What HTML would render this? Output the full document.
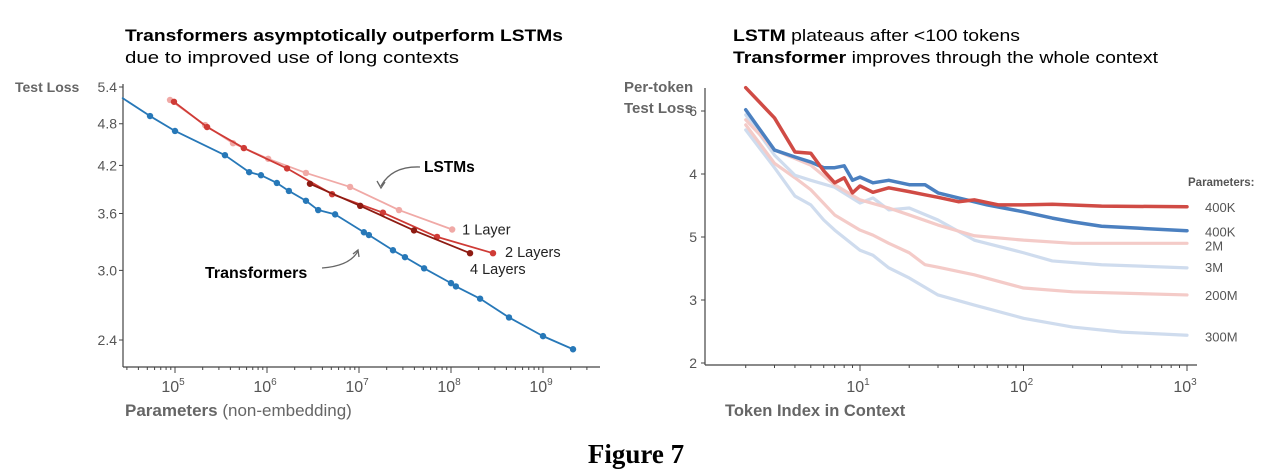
<!DOCTYPE html>
<html><head><meta charset="utf-8"><style>
body{margin:0;background:#fff;width:1280px;height:474px;overflow:hidden;font-family:"Liberation Sans",sans-serif}
svg{position:absolute;left:0;top:0}
</style></head><body>
<svg width="1280" height="474" xmlns="http://www.w3.org/2000/svg">
<g id="left"></g>
<g id="right"></g>
<text x="125" y="41" font-size="16.5" font-weight="bold" fill="#000" textLength="438" lengthAdjust="spacingAndGlyphs">Transformers asymptotically outperform LSTMs</text>
<text x="125" y="63" font-size="16.5" fill="#000" textLength="334" lengthAdjust="spacingAndGlyphs">due to improved use of long contexts</text>
<text x="733" y="41" font-size="16.5" fill="#000" textLength="287" lengthAdjust="spacingAndGlyphs"><tspan font-weight="bold">LSTM</tspan> plateaus after &lt;100 tokens</text>
<text x="733" y="63" font-size="16.5" fill="#000" textLength="425" lengthAdjust="spacingAndGlyphs"><tspan font-weight="bold">Transformer</tspan> improves through the whole context</text>
<text x="15" y="92" font-size="14" font-weight="bold" fill="#666">Test Loss</text>
<text x="125" y="416" font-size="17" fill="#666"><tspan font-weight="bold">Parameters</tspan> (non-embedding)</text>
<text x="624" y="92" font-size="15" font-weight="bold" fill="#666">Per-token</text>
<text x="624" y="113" font-size="15" font-weight="bold" fill="#666">Test Loss</text>
<text x="725" y="416" font-size="16.5" font-weight="bold" fill="#666">Token Index in Context</text>
<text x="636" y="463" font-size="27" font-weight="bold" font-family="Liberation Serif, serif" text-anchor="middle" fill="#000">Figure 7</text>
<text x="424" y="172" font-size="15.5" font-weight="bold" fill="#000">LSTMs</text>
<path d="M420,167 Q392,166 381,186" fill="none" stroke="#666" stroke-width="1.3"/>
<path d="M377,181 L381,188 L385,182" fill="none" stroke="#666" stroke-width="1.3"/>
<text x="205" y="278" font-size="16" font-weight="bold" fill="#000">Transformers</text>
<path d="M322,268 Q350,266 358,251" fill="none" stroke="#666" stroke-width="1.3"/>
<path d="M353,254 L358,250 L359,257" fill="none" stroke="#666" stroke-width="1.3"/>
<text x="1188" y="186" font-size="11.5" font-weight="bold" fill="#555">Parameters:</text>
</svg>
<script>
// ---------- left chart data ----------
const leftXTicks=[1e5,1e6,1e7,1e8,1e9];
const leftXTickExp=["5","6","7","8","9"];
const leftYTicks=[2.4,3.0,3.6,4.2,4.8,5.4];
const leftYTickLabels=["2.4","3.0","3.6","4.2","4.8","5.4"];
const trParams=[5.35e4,1e5,3.49e5,6.4e5,8.6e5,1.28e6,1.73e6,2.65e6,3.6e6,5.5e6,1.13e7,1.28e7,2.34e7,3.16e7,5.1e7,1e8,1.13e8,2.07e8,4.27e8,1e9,2.12e9];
const trLoss=[4.92,4.69,4.34,4.11,4.07,3.97,3.87,3.75,3.64,3.59,3.39,3.36,3.20,3.13,3.02,2.88,2.85,2.74,2.58,2.43,2.33];
const trStart=[2.7e4,5.21];
const l1Params=[8.83e4,2.12e5,4.27e5,1.03e6,2.65e6,8.0e6,2.72e7,1.03e8];
const l1Loss=[5.18,4.78,4.51,4.29,4.10,3.92,3.64,3.42];
const l2Params=[9.75e4,2.23e5,5.6e5,1.65e6,5.1e6,1.82e7,7.05e7,2.86e8];
const l2Loss=[5.15,4.75,4.44,4.16,3.83,3.61,3.34,3.17];
const l4Params=[2.93e6,1.03e7,3.96e7,1.61e8];
const l4Loss=[3.96,3.69,3.41,3.17];
// ---------- right chart data ----------
const rYTicks=[2,3,4,5,6];
const rYTickLabels=["2","3","5","4","6"];
const rXTicks=[10,100,1000];
const rXTickExp=["1","2","3"];
const redTok=[2,3,4,5,6,7,8,9,10,12,15,20,25,30,40,50,70,100,150,300,1000];
const red400K=[6.37,5.89,5.35,5.33,5.05,4.86,4.94,4.70,4.81,4.71,4.78,4.72,4.67,4.63,4.56,4.59,4.51,4.51,4.52,4.49,4.48];
const blueTok=[2,3,4,5,6,7,8,9,10,12,15,20,25,30,40,60,100,150,200,300,500,1000];
const blue400K=[6.02,5.38,5.27,5.19,5.10,5.10,5.13,4.90,4.95,4.86,4.90,4.83,4.83,4.70,4.62,4.51,4.40,4.30,4.24,4.17,4.14,4.10];
const pinkTok=[2,3,5,7,10,15,20,30,50,100,200,1000];
const pink2M=[5.86,5.38,5.14,4.83,4.59,4.46,4.35,4.19,4.02,3.95,3.90,3.90];
const lbTok=[2,3,4,5,7,10,12,15,20,30,50,100,150,300,1000];
const lb3M=[5.94,5.30,4.98,4.90,4.79,4.54,4.62,4.43,4.46,4.27,3.95,3.75,3.62,3.56,3.51];
const p200Tok=[2,3,4,5,7,10,12,15,20,25,30,50,100,200,1000];
const pink200M=[5.78,5.17,4.94,4.75,4.35,4.11,4.03,3.90,3.75,3.56,3.52,3.40,3.19,3.13,3.08];
const b300Tok=[2,3,4,5,6,7,10,12,15,20,30,50,100,200,400,1000];
const lb300M=[5.70,5.10,4.65,4.51,4.27,4.11,3.79,3.71,3.51,3.35,3.08,2.92,2.71,2.57,2.49,2.44];
const legendLabels=["400K","400K","2M","3M","200M","300M"];
const legendValues=[4.48,4.10,3.90,3.51,3.08,2.44];

const NS="http://www.w3.org/2000/svg";
function mk(parent,tag,attrs){const e=document.createElementNS(NS,tag);for(const k in attrs)e.setAttribute(k,attrs[k]);parent.appendChild(e);return e;}
const L=document.getElementById('left');
const lx=v=>175+92*(Math.log10(v)-5);
const ly=v=>87+312*(Math.log(5.4)-Math.log(v));
let e;
e=mk(L,'line',{x1:123,y1:84,x2:123,y2:367,stroke:'#444','stroke-width':1.2});


e=mk(L,'line',{x1:123,y1:367,x2:600,y2:367,stroke:'#444','stroke-width':1.2});


leftYTicks.forEach((t,i)=>{
  mk(L,'line',{x1:119,x2:123,y1:ly(t),y2:ly(t),stroke:'#444'});
  e=mk(L,'text',{x:117,y:ly(t)+5,'font-size':14,'text-anchor':'end',fill:'#555'});e.textContent=leftYTickLabels[i];
  
  
});
for(let d=4;d<=9;d++)for(let m=1;m<10;m++){const v=m*Math.pow(10,d);const x=lx(v);if(x<123||x>598)continue;
  mk(L,'line',{x1:x,x2:x,y1:367,y2:m==1?373:370,stroke:'#444'});}
leftXTicks.forEach((t,i)=>{
  e=mk(L,'text',{x:lx(t)-2,y:392,'font-size':16,'text-anchor':'middle',fill:'#555'});
  e.innerHTML='10<tspan font-size="10" dy="-7">'+leftXTickExp[i]+'</tspan>';
  
  
});
function series(g,xs,ys,color,name,fx,fy,markers,w,pre){
  let pts=xs.map((x,i)=>fx(x)+','+fy(ys[i]));
  if(pre)pts.unshift(fx(pre[0])+','+fy(pre[1]));
  const p=mk(g,'polyline',{points:pts.join(' '),fill:'none',stroke:color,'stroke-width':w,'stroke-linejoin':'round','stroke-linecap':'round'});
  
  
  if(markers)xs.forEach((x,i)=>{const c=mk(g,'circle',{cx:fx(x),cy:fy(ys[i]),r:3.2,fill:color});
    
    });
}
series(L,l1Params,l1Loss,'#f0a9a6','lstm-1-layer-line',lx,ly,true,1.8);
series(L,l2Params,l2Loss,'#cf3b36','lstm-2-layers-line',lx,ly,true,1.8);
series(L,l4Params,l4Loss,'#8e1b12','lstm-4-layers-line',lx,ly,true,1.8);
series(L,trParams,trLoss,'#2778b8','transformer-line',lx,ly,true,1.8,trStart);
[["1 Layer",l1Params,l1Loss,10,5],["2 Layers",l2Params,l2Loss,12,4],["4 Layers",l4Params,l4Loss,0,21]].forEach(a=>{
  const n=a[1].length-1;e=mk(L,'text',{x:lx(a[1][n])+a[3],y:ly(a[2][n])+a[4],'font-size':14.5,fill:'#222'});e.textContent=a[0];
  
  
});
const R=document.getElementById('right');
const rx=v=>860+163.5*(Math.log10(v)-1);
const ry=v=>363-63*(v-2);
e=mk(R,'line',{x1:705,y1:88,x2:705,y2:365,stroke:'#444','stroke-width':1.2});


e=mk(R,'line',{x1:705,y1:365,x2:1197,y2:365,stroke:'#444','stroke-width':1.2});


rYTicks.forEach((t,i)=>{
  mk(R,'line',{x1:701,x2:705,y1:ry(t),y2:ry(t),stroke:'#444'});
  e=mk(R,'text',{x:697,y:ry(t)+5,'font-size':14,'text-anchor':'end',fill:'#555'});e.textContent=rYTickLabels[i];
  
  
});
for(let d=0;d<=3;d++)for(let m=1;m<10;m++){const v=m*Math.pow(10,d);const x=rx(v);if(x<740||x>1190)continue;
  mk(R,'line',{x1:x,x2:x,y1:365,y2:m==1?371:368,stroke:'#444'});}
rXTicks.forEach((t,i)=>{
  e=mk(R,'text',{x:rx(t)-2,y:392,'font-size':16,'text-anchor':'middle',fill:'#555'});
  e.innerHTML='10<tspan font-size="10" dy="-7">'+rXTickExp[i]+'</tspan>';
  
  
});
series(R,b300Tok,lb300M,'#cfdcee','transformer-300m-line',rx,ry,false,3.2);
series(R,p200Tok,pink200M,'#f4cbc8','lstm-200m-line',rx,ry,false,3.2);
series(R,lbTok,lb3M,'#cfdcee','transformer-3m-line',rx,ry,false,3.2);
series(R,pinkTok,pink2M,'#f4cbc8','lstm-2m-line',rx,ry,false,3.2);
series(R,blueTok,blue400K,'#4b80c0','transformer-400k-line',rx,ry,false,3.5);
series(R,redTok,red400K,'#d04b45','lstm-400k-line',rx,ry,false,3.5);
const legOff=[5,6,7,4,5,6];
legendLabels.forEach((l,i)=>{
  e=mk(R,'text',{x:1205,y:ry(legendValues[i])+legOff[i],'font-size':13,fill:'#555'});e.textContent=l;
  
  
});
</script>
</body></html>
